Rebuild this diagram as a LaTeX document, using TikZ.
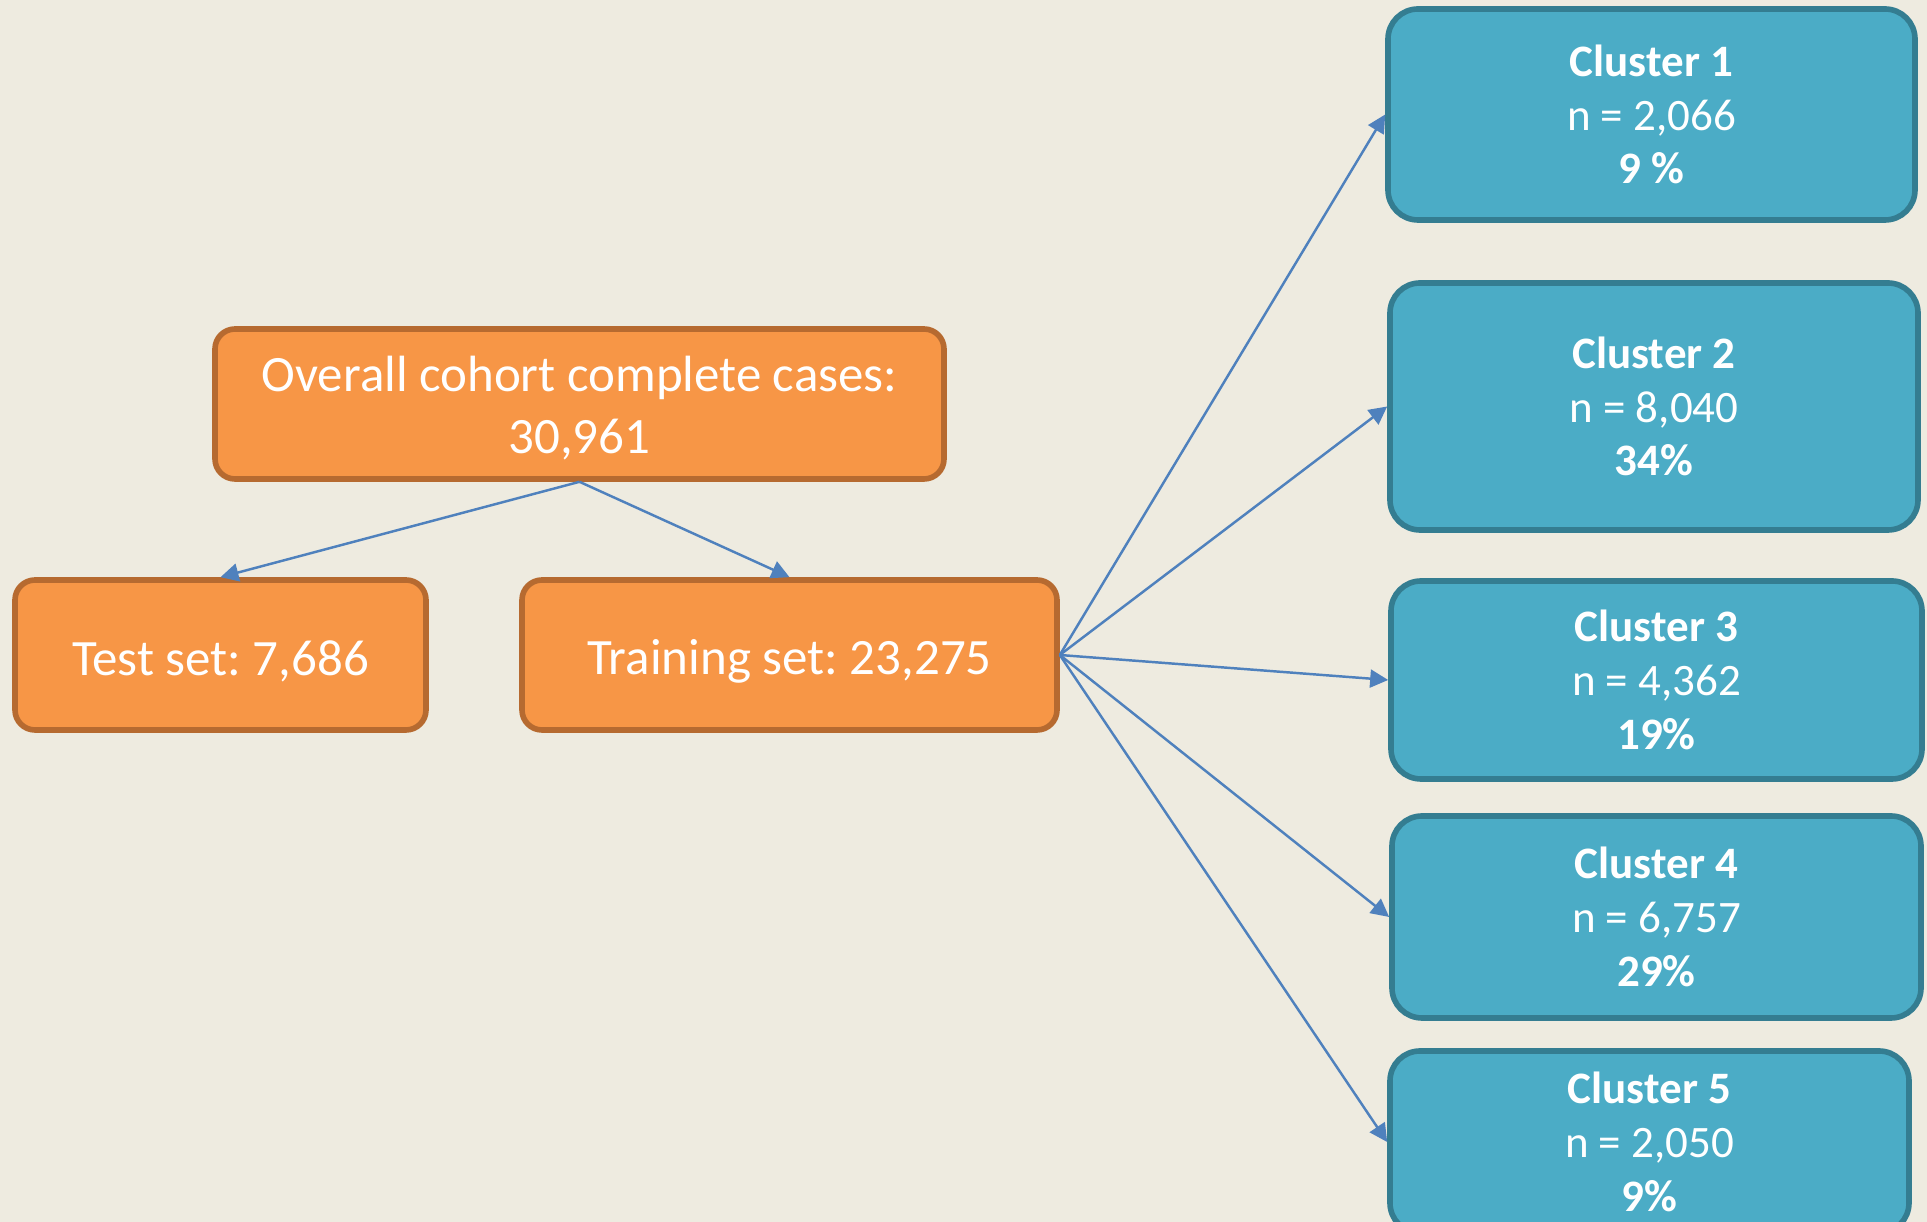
\documentclass[tikz,border=0pt]{standalone}
\usepackage{fontspec}
\setmainfont{Carlito}
\usepackage{tikz}
\usetikzlibrary{arrows.meta,positioning}
\frenchspacing
\definecolor{bgcream}{RGB}{238,235,224}
\definecolor{cohortfill}{RGB}{247,150,70}
\definecolor{cohortdraw}{RGB}{182,106,48}
\definecolor{clusterfill}{RGB}{75,172,198}
\definecolor{clusterdraw}{RGB}{52,125,145}
\definecolor{linkblue}{RGB}{79,129,189}
\newcommand{\lowtext}[1]{\raisebox{-0.6mm}[\height][\depth]{#1}}
\tikzset{
  cohort/.style={rectangle, rounded corners=2mm, draw=cohortdraw, fill=cohortfill,
                 line width=1.6pt, text=white, align=center, inner sep=2pt,
                 minimum height=15mm, font=\fontsize{14.5}{17.8}\selectfont},
  cluster/.style={rectangle, rounded corners=3mm, draw=clusterdraw, fill=clusterfill,
                  line width=1.6pt, text=white, align=center, inner sep=2pt,
                  font=\fontsize{12.8}{15.3}\selectfont},
  split/.style={-{Triangle[length=1.8mm, width=1.8mm]}, line width=0.7pt, linkblue},
}
\begin{document}
\begin{tikzpicture}
  % --- page -----------------------------------------------------------------
  \clip (0,0) rectangle (19.27,-12.22);
  \fill[bgcream] (0,0) rectangle (19.27,-12.22);

  % --- cohort split ----------------------------------------------------------
  \node[cohort, minimum width=72.9mm] (overall) at (5.795,-4.04)
    {\lowtext{\begin{tabular}{@{}c@{}}Overall cohort complete cases:\\30,961\end{tabular}}};
  \node[cohort, minimum width=41.1mm] (test) at (2.205,-6.55) {\lowtext{Test set: 7,686}};
  \node[cohort, minimum width=53.5mm] (train) at (7.895,-6.55) {\lowtext{Training set: 23,275}};

  % --- clusters --------------------------------------------------------------
  \node[cluster, minimum width=52.7mm, minimum height=21.1mm] (c1) at (16.515,-1.145)
    {\textbf{Cluster 1}\\n = 2,066\\\textbf{9 \%}};
  \node[cluster, minimum width=52.8mm, minimum height=24.7mm] (c2) at (16.54,-4.065)
    {\textbf{Cluster 2}\\n = 8,040\\\textbf{34\%}};
  \node[cluster, minimum width=53.1mm, minimum height=19.8mm] (c3) at (16.565,-6.80)
    {\textbf{Cluster 3}\\n = 4,362\\\textbf{19\%}};
  \node[cluster, minimum width=52.9mm, minimum height=20.2mm] (c4) at (16.565,-9.17)
    {\textbf{Cluster 4}\\n = 6,757\\\textbf{29\%}};
  \node[cluster, minimum width=51.9mm, minimum height=18.2mm] (c5) at (16.495,-11.42)
    {\textbf{Cluster 5}\\n = 2,050\\\textbf{9\%}};

  % --- links -----------------------------------------------------------------
  \draw[split] (overall.south) -- (test.north);
  \draw[split] (overall.south) -- (train.north);
  \foreach \c in {c1,c2,c3,c4,c5}
    \draw[split] (train.east) -- (\c.west);
\end{tikzpicture}
\end{document}
